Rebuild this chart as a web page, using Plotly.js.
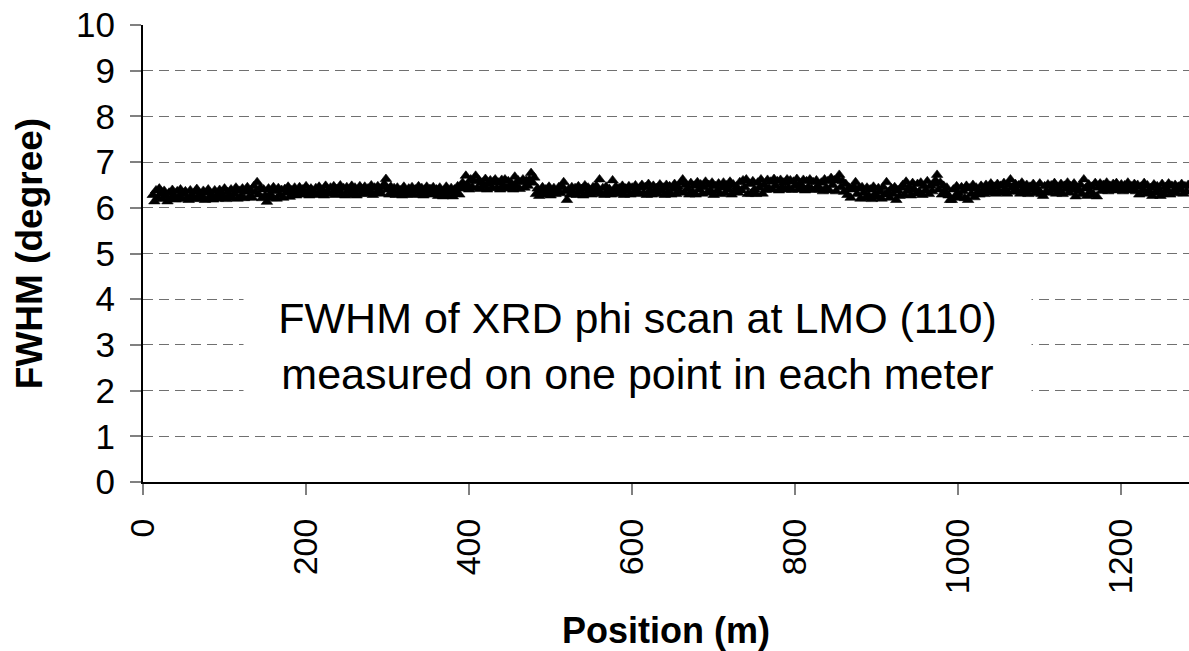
<!DOCTYPE html>
<html>
<head>
<meta charset="utf-8">
<script src="https://cdn.plot.ly/plotly-3.0.1.min.js"></script>
<style>html,body{margin:0;padding:0;background:#fff;}#chart{width:1189px;height:651px;}</style>
</head>
<body>
<div id="chart"></div>
<script>
// Positions: one reading every 2 m starting at 12 m
const FIRST_POSITION = 12;
const POSITION_STEP = 2;

// FWHM (degree) readings, 12 m .. 310 m
const fwhm_12_310 = [
  6.28,6.14,6.38,6.22,6.42,6.31,6.19,6.37,6.26,6.14,
  6.33,6.20,6.39,6.27,6.18,6.36,6.24,6.40,6.19,6.31,
  6.36,6.22,6.17,6.38,6.28,6.20,6.35,6.41,6.19,6.30,
  6.24,6.37,6.17,6.33,6.40,6.21,6.29,6.18,6.38,6.26,
  6.20,6.39,6.30,6.22,6.42,6.19,6.34,6.27,6.40,6.21,
  6.31,6.44,6.20,6.37,6.25,6.42,6.21,6.35,6.45,6.23,
  6.38,6.22,6.47,6.34,6.56,6.29,6.44,6.21,6.40,6.27,
  6.13,6.42,6.30,6.21,6.45,6.36,6.20,6.43,6.28,6.39,
  6.22,6.41,6.33,6.46,6.24,6.38,6.29,6.44,6.27,6.35,
  6.45,6.29,6.40,6.31,6.47,6.34,6.27,6.42,6.36,6.30,
  6.43,6.28,6.46,6.33,6.39,6.27,6.48,6.35,6.30,6.44,
  6.32,6.47,6.28,6.41,6.36,6.49,6.30,6.43,6.27,6.45,
  6.38,6.29,6.48,6.34,6.44,6.27,6.40,6.47,6.31,6.36,
  6.46,6.30,6.42,6.35,6.49,6.28,6.44,6.33,6.47,6.38,
  6.31,6.45,6.52,6.63,6.40,6.29,6.46,6.34,6.43,6.28
];
// 312 m .. 610 m
const fwhm_312_610 = [
  6.44,6.30,6.38,6.27,6.46,6.35,6.29,6.42,6.33,6.45,
  6.28,6.40,6.36,6.47,6.30,6.43,6.27,6.39,6.46,6.32,
  6.41,6.29,6.45,6.34,6.40,6.26,6.44,6.31,6.25,6.38,
  6.46,6.26,6.35,6.43,6.25,6.40,6.32,6.47,6.29,6.44,
  6.55,6.42,6.70,6.50,6.40,6.62,6.45,6.58,6.70,6.43,
  6.60,6.41,6.55,6.47,6.63,6.40,6.52,6.60,6.44,6.57,
  6.62,6.43,6.55,6.40,6.61,6.48,6.62,6.42,6.58,6.46,
  6.53,6.40,6.68,6.47,6.60,6.41,6.56,6.62,6.44,6.59,
  6.48,6.62,6.76,6.55,6.66,6.30,6.42,6.26,6.37,6.45,
  6.29,6.40,6.33,6.46,6.27,6.38,6.43,6.30,6.35,6.45,
  6.32,6.47,6.56,6.36,6.17,6.40,6.29,6.45,6.33,6.43,
  6.28,6.47,6.35,6.41,6.27,6.49,6.31,6.44,6.36,6.29,
  6.45,6.33,6.48,6.38,6.62,6.30,6.43,6.28,6.46,6.35,
  6.41,6.29,6.60,6.37,6.46,6.30,6.43,6.34,6.48,6.28,
  6.42,6.36,6.47,6.29,6.44,6.33,6.49,6.38,6.30,6.45
];
// 612 m .. 910 m
const fwhm_612_910 = [
  6.50,6.32,6.45,6.28,6.52,6.38,6.29,6.48,6.35,6.43,
  6.30,6.51,6.37,6.44,6.28,6.50,6.34,6.47,6.29,6.41,
  6.52,6.30,6.46,6.36,6.55,6.62,6.33,6.50,6.41,6.29,
  6.54,6.35,6.48,6.29,6.56,6.40,6.51,6.31,6.45,6.57,
  6.33,6.50,6.38,6.55,6.28,6.47,6.36,6.53,6.30,6.44,
  6.55,6.32,6.49,6.40,6.57,6.29,6.51,6.37,6.46,6.33,
  6.56,6.38,6.60,6.45,6.62,6.30,6.52,6.31,6.58,6.40,
  6.30,6.55,6.44,6.62,6.31,6.50,6.39,6.61,6.42,6.57,
  6.40,6.63,6.48,6.58,6.38,6.61,6.45,6.55,6.40,6.62,
  6.44,6.60,6.39,6.57,6.48,6.63,6.40,6.53,6.46,6.61,
  6.38,6.58,6.45,6.62,6.41,6.56,6.39,6.60,6.47,6.40,
  6.55,6.36,6.62,6.44,6.58,6.38,6.65,6.50,6.60,6.36,
  6.63,6.72,6.45,6.58,6.35,6.52,6.28,6.44,6.22,6.40,
  6.46,6.56,6.30,6.42,6.20,6.45,6.33,6.21,6.44,6.27,
  6.40,6.19,6.46,6.31,6.23,6.43,6.35,6.20,6.45,6.29
];
// 912 m .. 1282 m
const fwhm_912_1282 = [
  6.56,6.34,6.22,6.42,6.30,6.45,6.17,6.38,6.26,6.44,
  6.50,6.28,6.57,6.36,6.45,6.27,6.54,6.40,6.31,6.52,
  6.35,6.55,6.28,6.47,6.38,6.58,6.30,6.48,6.36,6.52,
  6.60,6.72,6.40,6.55,6.29,6.48,6.35,6.44,6.27,6.17,
  6.17,6.40,6.25,6.47,6.32,6.22,6.45,6.36,6.21,6.48,
  6.17,6.42,6.30,6.50,6.23,6.44,6.35,6.29,6.48,6.37,
  6.30,6.50,6.41,6.33,6.53,6.38,6.46,6.31,6.52,6.36,
  6.48,6.33,6.54,6.40,6.31,6.50,6.62,6.44,6.35,6.52,
  6.38,6.49,6.31,6.55,6.42,6.34,6.50,6.30,6.46,6.39,
  6.52,6.32,6.44,6.38,6.53,6.30,6.26,6.47,6.36,6.51,
  6.33,6.49,6.40,6.54,6.31,6.45,6.37,6.52,6.30,6.48,
  6.41,6.55,6.33,6.47,6.39,6.53,6.25,6.44,6.36,6.50,
  6.30,6.62,6.42,6.26,6.51,6.35,6.46,6.29,6.54,6.25,
  6.44,6.53,6.37,6.50,6.41,6.55,6.36,6.48,6.42,6.52,
  6.38,6.54,6.45,6.40,6.51,6.36,6.49,6.43,6.55,6.38,
  6.47,6.40,6.52,6.36,6.50,6.29,6.46,6.38,6.54,6.31,
  6.49,6.35,6.43,6.26,6.51,6.33,6.47,6.39,6.26,6.52,
  6.30,6.45,6.38,6.53,6.29,6.48,6.36,6.50,6.32,6.46,
  6.40,6.52,6.31,6.47,6.35,6.50
];

const xTickValues = [0, 200, 400, 600, 800, 1000, 1200];
const yTickValues = [0, 1, 2, 3, 4, 5, 6, 7, 8, 9, 10];
const xAxisTitle = 'Position (m)';
const yAxisTitle = 'FWHM (degree)';
const noteText = 'FWHM of XRD phi scan at LMO (110)<br>measured on one point in each meter';

const fwhm = [].concat(fwhm_12_310, fwhm_312_610, fwhm_612_910, fwhm_912_1282);

const FONT = '"Liberation Sans", Arial, Helvetica, sans-serif';

const trace = {
  type: 'scatter',
  mode: 'markers',
  x0: FIRST_POSITION,
  dx: POSITION_STEP,
  y: fwhm,
  marker: {symbol: 'triangle-up', size: 10, color: '#000000', line: {width: 0.6, color: '#000000'}},
  hoverinfo: 'x+y',
  showlegend: false
};

const layout = {
  width: 1189,
  height: 651,
  margin: {l: 143, r: 0, t: 25, b: 169, pad: 0},
  paper_bgcolor: '#ffffff',
  plot_bgcolor: '#ffffff',
  font: {family: FONT, color: '#000000'},
  showlegend: false,
  xaxis: {
    range: [0, 1283],
    tickmode: 'array',
    tickvals: xTickValues,
    ticktext: xTickValues.map(String),
    tickangle: -90,
    ticks: 'outside',
    ticklen: 11,
    tickwidth: 2,
    tickcolor: '#808080',
    ticklabelstandoff: 10,
    tickfont: {family: FONT, size: 34, color: '#000000'},
    showline: true,
    linecolor: '#000000',
    linewidth: 2,
    showgrid: false,
    zeroline: false,
    automargin: false,
    title: {text: xAxisTitle, font: {family: FONT, size: 36, color: '#000000', weight: 'bold'}, standoff: 30}
  },
  yaxis: {
    range: [0, 10],
    tickmode: 'array',
    tickvals: yTickValues,
    ticktext: yTickValues.map(String),
    ticks: 'outside',
    ticklen: 11,
    tickwidth: 2,
    tickcolor: '#808080',
    ticklabelstandoff: 8,
    tickfont: {family: FONT, size: 35, color: '#000000'},
    showline: true,
    linecolor: '#000000',
    linewidth: 2,
    showgrid: true,
    gridcolor: '#707070',
    gridwidth: 1,
    griddash: '10px,6px',
    zeroline: false,
    automargin: false,
    title: {text: yAxisTitle, font: {family: FONT, size: 37, color: '#000000', weight: 'bold'}, standoff: 22}
  },
  annotations: [{
    xref: 'paper', yref: 'paper',
    x: 0.4723, y: 0.298,
    xanchor: 'center', yanchor: 'middle',
    text: noteText,
    showarrow: false,
    align: 'center',
    valign: 'middle',
    width: 787,
    height: 130,
    bgcolor: '#ffffff',
    borderpad: 0,
    font: {family: FONT, size: 43, color: '#000000'}
  }]
};

Plotly.newPlot('chart', [trace], layout, {displayModeBar: false, staticPlot: true});
</script>
</body>
</html>
